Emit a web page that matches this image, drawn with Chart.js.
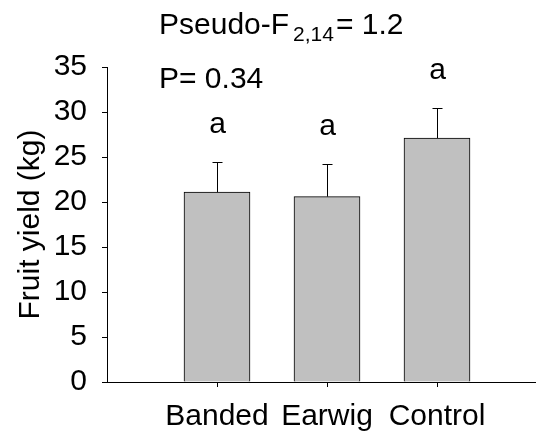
<!DOCTYPE html>
<html><head><meta charset="utf-8">
<script src="https://cdn.jsdelivr.net/npm/chart.js@4/dist/chart.umd.min.js"></script>
<style>html,body{margin:0;padding:0;background:#fff;overflow:hidden}#wrap{width:536px;height:434px;position:relative}</style>
</head><body><div id="wrap"><canvas id="c" width="536" height="434"></canvas></div>
<script>
const categories = ['Banded', 'Earwig', 'Control'];
const means = [21.1, 20.6, 27.1];
const errors = [3.3, 3.6, 3.4];
const letters = ['a', 'a', 'a'];
const yMin = 0, yMax = 35, yStep = 5;
const titleMain = 'Pseudo-F', titleSub = '2,14', titleEnd = '= 1.2';
const pText = 'P= 0.34';
const yTitle = 'Fruit yield (kg)';

const FONT = '"Liberation Sans", Arial, sans-serif';
const FS = 30;

const annot = {
  id: 'annot',
  afterDatasetsDraw(chart) {
    const {ctx, scales: {x, y}} = chart;
    ctx.save();
    ctx.strokeStyle = '#000';
    ctx.lineWidth = 1;
    ctx.fillStyle = '#000';
    means.forEach((m, i) => {
      const px = Math.round(x.getPixelForValue(i + 1)) + 0.5;
      const yb = y.getPixelForValue(m);
      const yt = Math.round(y.getPixelForValue(m + errors[i])) + 0.5;
      ctx.beginPath();
      ctx.moveTo(px, yb);
      ctx.lineTo(px, yt);
      ctx.moveTo(px - 5, yt);
      ctx.lineTo(px + 5, yt);
      ctx.stroke();
      ctx.font = FS + 'px ' + FONT;
      ctx.textAlign = 'center';
      ctx.textBaseline = 'alphabetic';
      ctx.fillText(letters[i], px, yt - 30);
    });
    // statistics text
    const x0 = chart.chartArea.left + 52;
    ctx.textAlign = 'left';
    ctx.textBaseline = 'alphabetic';
    ctx.font = FS + 'px ' + FONT;
    let cx = x0;
    const by = 34;
    ctx.fillText(titleMain, cx, by);
    cx += ctx.measureText(titleMain).width + 4;
    ctx.font = '21px ' + FONT;
    ctx.fillText(titleSub, cx, by + 7);
    cx += ctx.measureText(titleSub).width + 2;
    ctx.font = FS + 'px ' + FONT;
    ctx.fillText(titleEnd, cx, by);
    ctx.fillText(pText, x0, 88);
    ctx.restore();
  }
};

new Chart(document.getElementById('c'), {
  type: 'bar',
  data: {
    datasets: [{
      data: means.map((m, i) => ({x: i + 1, y: m})),
      backgroundColor: '#c0c0c0',
      borderColor: '#000',
      borderWidth: 1,
      barThickness: 66
    }]
  },
  options: {
    responsive: false,
    devicePixelRatio: 1,
    animation: false,
    layout: {padding: {top: 67, left: 0, right: 0, bottom: 0}},
    plugins: {legend: {display: false}, tooltip: {enabled: false}},
    scales: {
      x: {
        type: 'linear',
        offset: false,
        min: 0,
        max: 3.9,
        afterBuildTicks(s) { s.ticks = categories.map((c, i) => ({value: i + 1})); },
        ticks: {
          callback: (v) => categories[v - 1],
          autoSkip: false, maxRotation: 0,
          color: '#000', font: {size: FS, family: FONT}, padding: 12
        },
        grid: {offset: false, drawOnChartArea: false, drawTicks: true, tickLength: 5, color: '#000'},
        border: {display: true, color: '#000', width: 1},
        afterFit(s) { s.height = 52; }
      },
      y: {
        min: yMin, max: yMax,
        ticks: {stepSize: yStep, color: '#000', font: {size: FS, family: FONT}, padding: 15},
        grid: {drawOnChartArea: false, drawTicks: true, tickLength: 5, color: '#000'},
        border: {display: true, color: '#000', width: 1},
        title: {display: true, text: yTitle, color: '#000', font: {size: FS, family: FONT}, padding: {top: 13, bottom: 0}},
        afterFit(s) { s.width = 107; }
      }
    }
  },
  plugins: [annot]
});
</script>
</body></html>
